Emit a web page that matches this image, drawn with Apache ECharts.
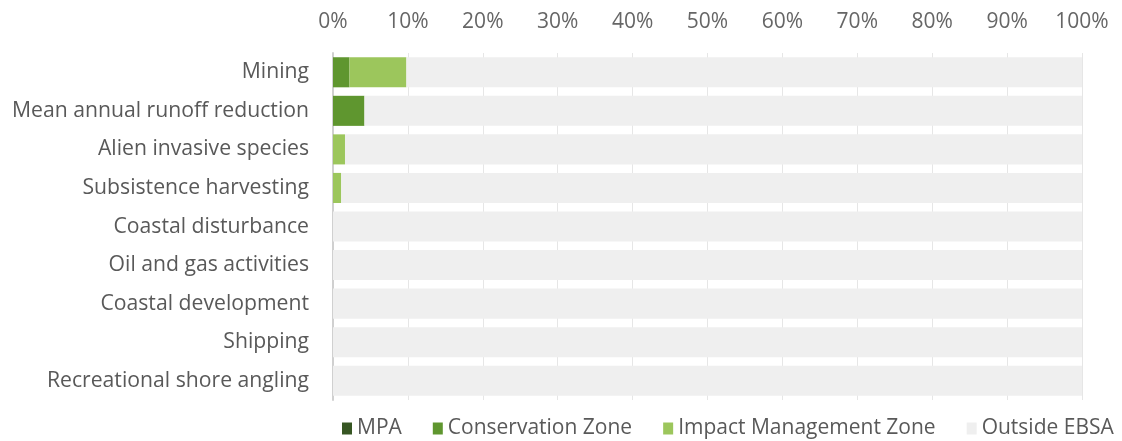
<!DOCTYPE html>
<html><head><meta charset="utf-8">
<script src="https://cdn.jsdelivr.net/npm/echarts@6/dist/echarts.min.js"></script>
<style>html,body{margin:0;padding:0;background:#fff}#c{width:1122px;height:441px}</style>
</head><body><div id="c"></div>
<script>
const categories = ["Mining","Mean annual runoff reduction","Alien invasive species","Subsistence harvesting","Coastal disturbance","Oil and gas activities","Coastal development","Shipping","Recreational shore angling"];
const mpa = [0,0,0,0,0,0,0,0,0];
const conservation = [2.2,4.2,0,0,0,0,0,0,0];
const impact = [7.6,0,1.6,1.1,0,0,0,0,0];
const outside = [90.2,95.8,98.4,98.9,100,100,100,100,100];
const tickLabels = ["0%","10%","20%","30%","40%","50%","60%","70%","80%","90%","100%"];

const font = "'Open Sans', sans-serif";
const chart = echarts.init(document.getElementById('c'));
function s(name, data, color){
  return {name, type:'bar', stack:'t', data, barCategoryGap:'22%', itemStyle:{color}, emphasis:{disabled:true}};
}
chart.setOption({
  animation:false,
  grid:{left:333, right:40, top:53, bottom:41},
  legend:{bottom:-3, left:337, itemWidth:10, itemHeight:12, itemGap:31, icon:'rect',
    textStyle:{fontFamily:font, fontSize:21, color:'#595959'},
    data:['MPA','Conservation Zone','Impact Management Zone','Outside EBSA']},
  xAxis:{type:'value', position:'top', min:0, max:100, interval:10,
    axisLabel:{formatter:v=>tickLabels[Math.round(v/10)], fontFamily:font, fontSize:21, color:'#666666', margin:20},
    axisLine:{show:false}, axisTick:{show:false},
    splitLine:{show:true, lineStyle:{color:'#e6e6e6', width:1}}},
  yAxis:{type:'category', inverse:true, data:categories,
    axisLabel:{fontFamily:font, fontSize:21.2, color:'#595959', margin:24, padding:[3,0,0,0]},
    axisLine:{show:true, lineStyle:{color:'#d0d0d0', width:2}}, axisTick:{show:false}},
  series:[
    s('MPA', mpa, '#375623'),
    s('Conservation Zone', conservation, '#5f962f'),
    s('Impact Management Zone', impact, '#9cc65c'),
    s('Outside EBSA', outside, '#efefef')
  ]
});
</script></body></html>
